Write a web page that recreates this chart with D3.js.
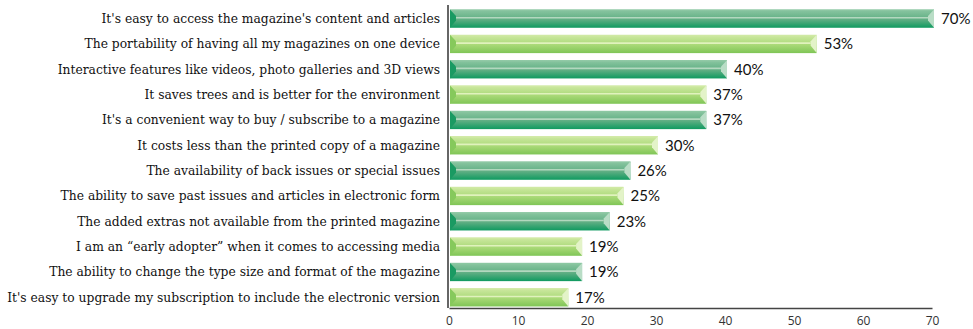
<!DOCTYPE html>
<html>
<head>
<meta charset="utf-8">
<script src="https://cdn.jsdelivr.net/npm/d3@7"></script>
<style>
  html, body { margin: 0; padding: 0; background: #fff; }
  svg { display: block; }
</style>
</head>
<body>
<svg id="chart" width="973" height="329"></svg>
<script>
// Reasons readers give for preferring the digital magazine edition (% of respondents)
const reasons = [
  "It's easy to access the magazine's content and articles",
  "The portability of having all my magazines on one device",
  "Interactive features like videos, photo galleries and 3D views",
  "It saves trees and is better for the environment",
  "It's a convenient way to buy / subscribe to a magazine",
  "It costs less than the printed copy of a magazine",
  "The availability of back issues or special issues",
  "The ability to save past issues and articles in electronic form",
  "The added extras not available from the printed magazine",
  "I am an \u201cearly adopter\u201d when it comes to accessing media",
  "The ability to change the type size and format of the magazine",
  "It's easy to upgrade my subscription to include the electronic version"
];
const percents = [70, 53, 40, 37, 37, 30, 26, 25, 23, 19, 19, 17];
const xTicks = [0, 10, 20, 30, 40, 50, 60, 70];

const svg = d3.select("#chart");
const margin = { left: 449, right: 41, top: 6, bottom: 21 };
const W = 973, H = 329;

const x = d3.scaleLinear().domain([0, 70]).range([margin.left, W - margin.right]);
const y = d3.scaleBand().domain(d3.range(reasons.length))
  .range([margin.top, H - margin.bottom]).paddingInner(0.28).paddingOuter(0.1);

// Two alternating bevelled bar styles
const styles = [
  { id: "gDark", top: "#8cc7a2", mid: "#5fae83", bot: "#0f9a60", edgeL: "#1a9a62", edgeR: "#b9ddc6", line: "#b3d8bf" },
  { id: "gLight", top: "#cfe9a3", mid: "#a9d977", bot: "#7fc556", edgeL: "#86c95c", edgeR: "#e3f3c8", line: "#e0f2bd" }
];
const defs = svg.append("defs");
styles.forEach(s => {
  const g = defs.append("linearGradient").attr("id", s.id)
    .attr("x1", 0).attr("y1", 0).attr("x2", 0).attr("y2", 1);
  g.append("stop").attr("offset", "0%").attr("stop-color", s.top);
  g.append("stop").attr("offset", "55%").attr("stop-color", s.mid);
  g.append("stop").attr("offset", "100%").attr("stop-color", s.bot);
});

const bw = y.bandwidth();
const bevel = 6;

const bars = svg.append("g").selectAll("g.bar")
  .data(percents).join("g").attr("class", "bar");

bars.each(function (d, i) {
  const s = styles[i % 2];
  const g = d3.select(this);
  const x0 = x(0) + 1, x1 = x(d) + 2, y0 = y(i) + 1, h = bw, ym = y0 + h * 0.5;
  g.append("rect").attr("x", x0).attr("y", y0).attr("width", x1 - x0).attr("height", h)
    .attr("fill", `url(#${s.id})`);
  // top light rim
  g.append("rect").attr("x", x0).attr("y", y0).attr("width", x1 - x0).attr("height", 1.5)
    .attr("fill", s.top).attr("opacity", 0.9);
  // highlight line along the bar
  g.append("line").attr("x1", x0 + bevel).attr("x2", x1 - bevel)
    .attr("y1", y0 + h * 0.45).attr("y2", y0 + h * 0.45)
    .attr("stroke", s.line).attr("stroke-width", 1.6);
  // left bevel
  g.append("path")
    .attr("d", `M${x0},${y0}L${x0 + bevel},${y0 + h * 0.35}L${x0 + bevel},${y0 + h * 0.6}L${x0},${y0 + h}Z`)
    .attr("fill", s.edgeL);
  // right bevel
  g.append("path")
    .attr("d", `M${x1},${y0}L${x1},${y0 + h}L${x1 - bevel},${y0 + h * 0.6}L${x1 - bevel},${y0 + h * 0.35}Z`)
    .attr("fill", s.edgeR);
  // value label
  g.append("text").attr("x", x1 + 7).attr("y", ym).attr("dy", "0.36em")
    .attr("font-family", "Lato, 'DejaVu Sans', sans-serif").attr("font-size", 15)
    .attr("fill", "#111").text(d + "%");
});

// category labels
svg.append("g").selectAll("text").data(reasons).join("text")
  .attr("x", margin.left - 9).attr("y", (d, i) => y(i) + 1 + bw / 2).attr("dy", "0.36em")
  .attr("text-anchor", "end")
  .attr("font-family", "'DejaVu Serif', serif").attr("font-size", 12.3)
  .attr("fill", "#111").text(d => d);

// axes
const axisY = H - margin.bottom;
svg.append("line").attr("x1", x(0) - 1).attr("x2", x(0) - 1).attr("y1", 5).attr("y2", axisY)
  .attr("stroke", "#333").attr("stroke-width", 1.5);
const xAxis = d3.axisBottom(x).tickValues(xTicks).tickSize(0).tickPadding(8);
const ax = svg.append("g").attr("transform", `translate(0,${axisY})`).call(xAxis);
ax.select(".domain").attr("stroke", "#444").attr("stroke-width", 1.5);
ax.selectAll("text").attr("font-family", "'Open Sans', sans-serif").attr("font-size", 12).attr("fill", "#333");
</script>
</body>
</html>
